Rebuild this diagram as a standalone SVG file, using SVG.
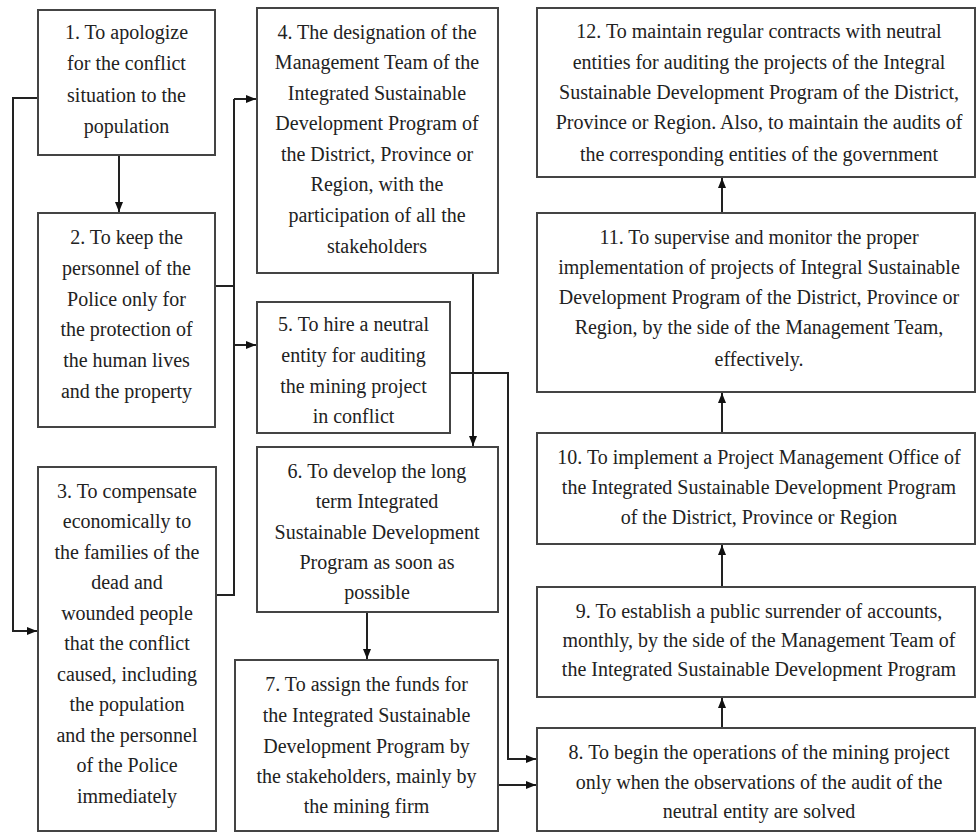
<svg xmlns="http://www.w3.org/2000/svg" width="976" height="833" viewBox="0 0 976 833">
<style>
.box{fill:#fff;stroke:#444;stroke-width:2}
.t{font-family:'Liberation Serif','Times New Roman','DejaVu Serif',serif;font-size:20px;fill:#222;text-anchor:middle}
.c{fill:none;stroke:#222;stroke-width:2}
</style>
<defs>
<marker id="ah" viewBox="0 0 10 8" refX="10" refY="4" markerWidth="10" markerHeight="8" markerUnits="userSpaceOnUse" orient="auto"><path d="M0,0 L10,4 L0,8 z" fill="#111"/></marker>
</defs>
<rect width="976" height="833" fill="#fff"/>
<g id="connectors">
<path class="c" d="M119,155 V212" marker-end="url(#ah)"/>
<path class="c" d="M38,98 H13 V631 H37" marker-end="url(#ah)"/>
<path class="c" d="M215,286 H234 M215,595 H234 V99 M234,99 H256" marker-end="url(#ah)"/>
<path class="c" d="M234,345 H256" marker-end="url(#ah)"/>
<path class="c" d="M473,273 V446" marker-end="url(#ah)"/>
<path class="c" d="M450,373 H508 V759 H536" marker-end="url(#ah)"/>
<path class="c" d="M367,612 V659" marker-end="url(#ah)"/>
<path class="c" d="M498,785 H536" marker-end="url(#ah)"/>
<path class="c" d="M722,728 V698" marker-end="url(#ah)"/>
<path class="c" d="M722,587 V545" marker-end="url(#ah)"/>
<path class="c" d="M722,433 V393" marker-end="url(#ah)"/>
<path class="c" d="M722,213 V178" marker-end="url(#ah)"/>
</g>
<g id="n1"><rect class="box" x="38" y="10" width="177" height="145"/>
<text class="t" font-family="Liberation Serif, serif"><tspan x="126.5" y="39">1. To apologize</tspan><tspan x="126.5" y="70">for the conflict</tspan><tspan x="126.5" y="102">situation to the</tspan><tspan x="126.5" y="133">population</tspan></text></g>
<g id="n2"><rect class="box" x="38" y="213" width="177" height="214"/>
<text class="t"><tspan x="126.5" y="244">2. To keep the</tspan><tspan x="126.5" y="275">personnel of the</tspan><tspan x="126.5" y="306">Police only for</tspan><tspan x="126.5" y="336">the protection of</tspan><tspan x="126.5" y="367">the human lives</tspan><tspan x="126.5" y="398">and the property</tspan></text></g>
<g id="n3"><rect class="box" x="38" y="467" width="178" height="364"/>
<text class="t"><tspan x="127" y="498">3. To compensate</tspan><tspan x="127" y="528">economically to</tspan><tspan x="127" y="559">the families of the</tspan><tspan x="127" y="589">dead and</tspan><tspan x="127" y="620">wounded people</tspan><tspan x="127" y="650">that the conflict</tspan><tspan x="127" y="681">caused, including</tspan><tspan x="127" y="711">the population</tspan><tspan x="127" y="742">and the personnel</tspan><tspan x="127" y="772">of the Police</tspan><tspan x="127" y="803">immediately</tspan></text></g>
<g id="n4"><rect class="box" x="257" y="8" width="241" height="265"/>
<text class="t"><tspan x="377" y="39">4. The designation of the</tspan><tspan x="377" y="69">Management Team of the</tspan><tspan x="377" y="100">Integrated Sustainable</tspan><tspan x="377" y="130">Development Program of</tspan><tspan x="377" y="161">the District, Province or</tspan><tspan x="377" y="191">Region, with the</tspan><tspan x="377" y="222">participation of all the</tspan><tspan x="377" y="253">stakeholders</tspan></text></g>
<g id="n5"><rect class="box" x="257" y="302" width="193" height="131"/>
<text class="t"><tspan x="353.5" y="331">5. To hire a neutral</tspan><tspan x="353.5" y="362">entity for auditing</tspan><tspan x="353.5" y="393">the mining project</tspan><tspan x="353.5" y="423">in conflict</tspan></text></g>
<g id="n6"><rect class="box" x="257" y="447" width="241" height="165"/>
<text class="t"><tspan x="377" y="478">6. To develop the long</tspan><tspan x="377" y="508">term Integrated</tspan><tspan x="377" y="539">Sustainable Development</tspan><tspan x="377" y="569">Program as soon as</tspan><tspan x="377" y="599">possible</tspan></text></g>
<g id="n7"><rect class="box" x="235" y="660" width="263" height="171"/>
<text class="t"><tspan x="366.5" y="691">7. To assign the funds for</tspan><tspan x="366.5" y="722">the Integrated Sustainable</tspan><tspan x="366.5" y="753">Development Program by</tspan><tspan x="366.5" y="783">the stakeholders, mainly by</tspan><tspan x="366.5" y="813">the mining firm</tspan></text></g>
<g id="n8"><rect class="box" x="537" y="728" width="438" height="103"/>
<text class="t"><tspan x="759" y="759">8. To begin the operations of the mining project</tspan><tspan x="759" y="789">only when the observations of the audit of the</tspan><tspan x="759" y="818">neutral entity are solved</tspan></text></g>
<g id="n9"><rect class="box" x="537" y="587" width="438" height="110"/>
<text class="t"><tspan x="759" y="618">9. To establish a public surrender of accounts,</tspan><tspan x="759" y="647">monthly, by the side of the Management Team of</tspan><tspan x="759" y="676">the Integrated Sustainable Development Program</tspan></text></g>
<g id="n10"><rect class="box" x="537" y="433" width="438" height="111"/>
<text class="t"><tspan x="759" y="464">10. To implement a Project Management Office of</tspan><tspan x="759" y="494">the Integrated Sustainable Development Program</tspan><tspan x="759" y="524">of the District, Province or Region</tspan></text></g>
<g id="n11"><rect class="box" x="537" y="213" width="438" height="179"/>
<text class="t"><tspan x="759" y="244">11. To supervise and monitor the proper</tspan><tspan x="759" y="274">implementation of projects of Integral Sustainable</tspan><tspan x="759" y="304">Development Program of the District, Province or</tspan><tspan x="759" y="334">Region, by the side of the Management Team,</tspan><tspan x="759" y="366">effectively.</tspan></text></g>
<g id="n12"><rect class="box" x="537" y="8" width="438" height="169"/>
<text class="t"><tspan x="759" y="38">12. To maintain regular contracts with neutral</tspan><tspan x="759" y="69">entities for auditing the projects of the Integral</tspan><tspan x="759" y="99">Sustainable Development Program of the District,</tspan><tspan x="759" y="129">Province or Region. Also, to maintain the audits of</tspan><tspan x="759" y="161">the corresponding entities of the government</tspan></text></g>
</svg>
